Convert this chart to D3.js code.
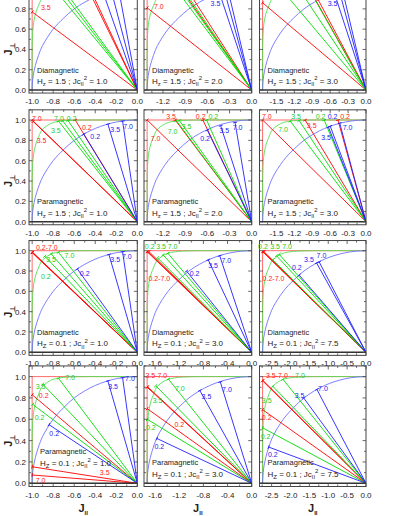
<!DOCTYPE html>
<html>
<head>
<meta charset="utf-8">
<script src="https://cdn.jsdelivr.net/npm/d3@7"></script>
<style>
    body { margin: 0; background: #fff; }
    svg { display: block; font-family: "Liberation Sans", Arial, sans-serif; }
</style>
</head>
<body>
<svg id="chart" width="399" height="516"></svg>
<script>
// ---- data ----
const phases = ['Diamagnetic', 'Paramagnetic', 'Diamagnetic', 'Paramagnetic'];
const hzValues = ['1.5', '1.5', '0.1', '0.1'];
const jc2Values = [[1.0, 2.0, 3.0], [1.0, 2.0, 3.0], [1.0, 3.0, 7.5], [1.0, 3.0, 7.5]];

const xTicksTop = [[-1.0, -0.8, -0.6, -0.4, -0.2, 0.0], [-1.2, -0.9, -0.6, -0.3, 0.0], [-1.5, -1.2, -0.9, -0.6, -0.3, 0.0]];
const xTicksBottom = [[-1.0, -0.8, -0.6, -0.4, -0.2, 0.0], [-1.6, -1.2, -0.8, -0.4, 0.0], [-2.5, -2.0, -1.5, -1.0, -0.5, 0.0]];
const yTicks = [0.0, 0.2, 0.4, 0.6, 0.8, 1.0];

// boundary shapes, J_par given as fraction of Jc
const blueArc = [[-1, 0], [-0.998, 0.06], [-0.99, 0.14], [-0.97, 0.24], [-0.94, 0.34], [-0.9, 0.44], [-0.8, 0.6], [-0.7, 0.71],
    [-0.6, 0.8], [-0.5, 0.866], [-0.4, 0.917], [-0.3, 0.954], [-0.2, 0.98], [-0.1, 0.995], [0, 1]];
const greenArc = [[-1, 0], [-0.9999, 0.3], [-0.999, 0.45], [-0.996, 0.55], [-0.99, 0.63], [-0.98, 0.7], [-0.96, 0.78], [-0.94, 0.83],
    [-0.92, 0.88], [-0.9, 0.91], [-0.85, 0.95], [-0.8, 0.975], [-0.7, 0.993], [-0.6, 0.998], [-0.5, 1], [0, 1]];

// rays from the origin: [colour, J_par end, J_perp end] per panel (row by row)
const rays = [
    [['r', -1.0, 0.77], ['r', -0.45, 1.0], ['r', -0.47, 1.0], ['g', -0.78, 0.985], ['g', -0.735, 0.99], ['g', -0.70, 0.993],
     ['b', -0.32, 0.947], ['b', -0.245, 0.97], ['b', -0.176, 0.984]],
    [['r', -1.414, 0.81], ['r', -0.955, 1.0], ['r', -0.88, 1.0], ['g', -1.02, 0.99], ['g', -0.97, 0.995], ['g', -0.93, 1.0],
     ['b', -0.433, 0.952], ['b', -0.365, 0.966], ['b', -0.317, 0.974]],
    [['r', -1.732, 0.86], ['r', -0.95, 1.0], ['r', -0.90, 1.0], ['g', -1.39, 0.975], ['g', -1.12, 0.995], ['g', -0.96, 1.0],
     ['b', -0.51, 0.92], ['b', -0.43, 0.94], ['b', -0.38, 0.95]],
    [['r', -1.0, 1.0], ['r', -0.99, 0.985], ['r', -0.59, 1.0], ['g', -0.75, 0.99], ['g', -0.71, 0.993], ['g', -0.66, 0.997],
     ['b', -0.51, 0.86], ['b', -0.28, 0.96], ['b', -0.14, 0.99]],
    [['r', -1.414, 1.0], ['r', -1.035, 1.0], ['r', -0.66, 1.0], ['g', -1.02, 0.995], ['g', -0.98, 0.997], ['g', -0.61, 1.0],
     ['b', -0.6, 0.9], ['b', -0.42, 0.944], ['b', -0.225, 0.975]],
    [['r', -1.732, 1.0], ['r', -1.02, 1.0], ['r', -0.47, 1.0], ['g', -1.27, 0.99], ['g', -1.12, 0.995], ['g', -0.70, 1.0],
     ['b', -0.63, 0.93], ['b', -0.6, 0.94], ['b', -0.44, 0.97]],
    [['r', -0.995, 0.985], ['r', -1.0, 0.985], ['r', -1.0, 0.98], ['g', -0.88, 0.945], ['g', -0.82, 0.97], ['g', -0.75, 0.985],
     ['b', -0.57, 0.82], ['b', -0.27, 0.963], ['b', -0.14, 0.99]],
    [['r', -1.732, 0.99], ['r', -1.72, 0.99], ['r', -1.70, 0.99], ['g', -1.56, 0.93], ['g', -1.47, 0.96], ['g', -1.39, 0.975],
     ['b', -1.08, 0.8], ['b', -0.72, 0.91], ['b', -0.53, 0.95]],
    [['r', -2.739, 0.99], ['r', -2.72, 0.99], ['r', -2.70, 0.99], ['g', -2.47, 0.91], ['g', -2.37, 0.95], ['g', -2.3, 0.965],
     ['b', -1.77, 0.76], ['b', -1.31, 0.88], ['b', -1.24, 0.89]],
    [['r', -1.0, 0.83], ['r', -1.0, 0.155], ['r', -1.0, 0.078], ['g', -0.995, 0.74], ['g', -0.9, 0.93], ['g', -0.75, 0.985],
     ['b', -0.84, 0.55], ['b', -0.28, 0.96], ['b', -0.14, 0.99]],
    [['r', -1.732, 0.70], ['r', -1.732, 0.9], ['r', -1.725, 0.905], ['g', -1.73, 0.60], ['g', -1.59, 0.914], ['g', -1.38, 0.977],
     ['b', -1.57, 0.42], ['b', -0.86, 0.87], ['b', -0.52, 0.95]],
    [['r', -2.739, 0.69], ['r', -2.739, 0.96], ['r', -2.73, 0.965], ['g', -2.739, 0.52], ['g', -2.47, 0.91], ['g', -2.2, 0.975],
     ['b', -2.58, 0.34], ['b', -1.65, 0.8], ['b', -1.3, 0.88]]
];

// curve labels: [colour, text, J_par, J_perp] per panel
const labels = [
    [['r', '3.5', -0.87, 0.81]],
    [['r', '7.0', -1.255, 0.82], ['b', '3.5', -0.49, 0.855]],
    [['b', '3.5', -0.56, 0.855]],
    [['r', '7.0', -0.955, 1.01], ['g', '7.0', -0.745, 1.01], ['g', '0.2', -0.625, 1.01], ['g', '3.5', -0.775, 0.9],
     ['r', '0.2', -0.48, 0.93], ['r', '3.5', -0.91, 0.8], ['b', '0.2', -0.40, 0.84], ['b', '3.5', -0.21, 0.91], ['b', '7.0', -0.087, 0.94]],
    [['r', '3.5', -1.09, 1.03], ['r', '0.2', -0.69, 1.03], ['g', '0.2', -0.52, 1.03], ['g', '7.0', -1.07, 0.885],
     ['g', '3.5', -0.88, 0.94], ['r', '7.0', -1.30, 0.82], ['b', '0.2', -0.63, 0.82], ['b', '3.5', -0.37, 0.90], ['b', '7.0', -0.19, 0.925]],
    [['r', '7.0', -1.66, 1.03], ['g', '3.5', -1.17, 1.03], ['g', '0.2', -0.76, 1.03], ['b', '0.2', -0.56, 1.03], ['r', '0.2', -0.35, 1.03],
     ['g', '7.0', -1.39, 0.91], ['r', '3.5', -0.91, 0.95], ['b', '3.5', -0.67, 0.83], ['b', '7.0', -0.31, 0.925]],
    [['r', '0.2-7.0', -0.86, 1.03], ['g', '3.5', -0.82, 0.91], ['g', '7.0', -0.645, 0.95], ['g', '0.2', -0.87, 0.75],
     ['b', '0.2', -0.5, 0.78], ['b', '3.5', -0.21, 0.91], ['b', '7.0', -0.10, 0.94]],
    [['g', '0.2', -1.69, 1.04], ['g', '3.5', -1.50, 1.04], ['g', '7.0', -1.31, 1.04], ['r', '0.2-7.0', -1.53, 0.73],
     ['b', '0.2', -0.945, 0.78], ['b', '3.5', -0.64, 0.85], ['b', '7.0', -0.42, 0.90]],
    [['g', '0.2', -2.73, 1.04], ['g', '3.5', -2.41, 1.04], ['g', '7.0', -2.09, 1.04], ['r', '0.2-7.0', -2.45, 0.73],
     ['b', '0.2', -1.83, 0.83], ['b', '3.5', -1.51, 0.91], ['b', '7.0', -1.18, 0.95]],
    [['r', '0.2', -0.89, 0.82], ['g', '0.2', -0.93, 0.62], ['b', '0.2', -0.79, 0.47], ['r', '3.5', -0.31, 0.10], ['r', '7.0', -0.92, 0.03],
     ['g', '3.5', -0.92, 0.905], ['b', '3.5', -0.23, 0.905], ['g', '7.0', -0.64, 0.99], ['b', '7.0', -0.07, 0.98]],
    [['r', '3.5-7.0', -1.58, 1.01], ['g', '7.0', -1.19, 0.89], ['g', '3.5', -1.56, 0.78], ['r', '0.2', -1.2, 0.55],
     ['g', '0.2', -1.67, 0.52], ['b', '0.2', -1.53, 0.34], ['b', '3.5', -0.75, 0.81], ['b', '7.0', -0.41, 0.875]],
    [['r', '3.5-7.0', -2.36, 1.01], ['g', '7.0', -1.75, 1.01], ['g', '3.5', -2.63, 0.78], ['r', '0.2', -2.63, 0.62],
     ['g', '0.2', -2.66, 0.44], ['b', '0.2', -2.47, 0.27], ['b', '3.5', -1.76, 0.82], ['b', '7.0', -1.14, 0.89]]
];

// ---- layout ----
const colLeft = [29, 144, 259.5];
const colRight = [137.3, 251.7, 366];
const rowZero = [90, 221.7, 352.3, 483.3];
const rowUnit = [101.4, 101.7, 101.6, 106.7];

const lineColor = { r: '#ff0000', g: '#00dd00', b: '#2020ff' };
const textColor = { r: '#ff2020', g: '#22cc22', b: '#2222ee' };
const fmt = v => d3.format('.1f')(v).replace('−', '-');

const svg = d3.select('#chart');
const defs = svg.append('defs');

for (let r = 0; r < 4; r++) {
    for (let c = 0; c < 3; c++) {
        drawPanel(r, c);
    }
}

function drawPanel(r, c) {
    const idx = r * 3 + c;
    const jc = Math.sqrt(jc2Values[r][c]);
    const x = d3.scaleLinear().domain([-jc * 1.03, 0]).range([colLeft[c], colRight[c]]);
    const y = d3.scaleLinear().domain([-0.03, 1.1])
        .range([rowZero[r] + 0.03 * rowUnit[r], rowZero[r] - 1.1 * rowUnit[r]]);

    const [x0, x1] = x.range();
    const [yb, yt] = y.range();

    defs.append('clipPath').attr('id', `clip${idx}`)
        .append('rect').attr('x', x0).attr('y', yt).attr('width', x1 - x0).attr('height', yb - yt);

    const g = svg.append('g');
    const plot = g.append('g').attr('clip-path', `url(#clip${idx})`);

    const line = d3.line().x(d => x(d[0])).y(d => y(d[1]));
    const smooth = d3.line().x(d => x(d[0] * jc)).y(d => y(d[1])).curve(d3.curveCatmullRom);

    // red limit: J_par = -Jc and J_perp = 1
    plot.append('path')
        .attr('d', line([[-jc, 0], [-jc, 1], [0, 1]]))
        .attr('fill', 'none').attr('stroke', '#ff6a6a').attr('stroke-width', 1);
    plot.append('path')
        .attr('d', smooth(greenArc))
        .attr('fill', 'none').attr('stroke', '#55e055').attr('stroke-width', 0.9);
    plot.append('path')
        .attr('d', smooth(blueArc))
        .attr('fill', 'none').attr('stroke', '#7070ff').attr('stroke-width', 0.9);

    // rays, red then green then blue
    const order = { r: 0, g: 1, b: 2 };
    const panelRays = rays[idx].slice().sort((a, b) => order[a[0]] - order[b[0]]);
    plot.selectAll('line.ray')
        .data(panelRays)
        .join('line')
        .attr('class', 'ray')
        .attr('x1', x(0)).attr('y1', y(0))
        .attr('x2', d => x(d[1])).attr('y2', d => y(d[2]))
        .attr('stroke', d => lineColor[d[0]])
        .attr('stroke-width', 0.9);

    // small end caps on rays
    plot.selectAll('line.cap')
        .data(panelRays)
        .join('line')
        .attr('class', 'cap')
        .each(function (d) {
            const px = x(d[1]), py = y(d[2]);
            const dx = px - x(0), dy = py - y(0);
            const len = Math.hypot(dx, dy);
            const nx = -dy / len * 2, ny = dx / len * 2;
            d3.select(this)
                .attr('x1', px - nx).attr('y1', py - ny)
                .attr('x2', px + nx).attr('y2', py + ny);
        })
        .attr('stroke', d => lineColor[d[0]])
        .attr('stroke-width', 0.9);

    // zero line
    g.append('line')
        .attr('x1', x0).attr('x2', x1).attr('y1', y(0)).attr('y2', y(0))
        .attr('stroke', '#333').attr('stroke-width', 1.6);

    // frame
    g.append('rect')
        .attr('x', x0).attr('y', yt).attr('width', x1 - x0).attr('height', yb - yt)
        .attr('fill', 'none').attr('stroke', '#444').attr('stroke-width', 1);

    // ticks on all sides, pointing in
    const xt = r < 2 ? xTicksTop[c] : xTicksBottom[c];
    const step = xt[1] - xt[0];
    const xMinor = d3.range(0, 61).map(i => -i * step / 2).filter(v => v >= x.domain()[0] - 1e-9);
    const yMinor = d3.range(0, 12).map(i => i * 0.1);

    const tickG = g.append('g').attr('stroke', '#444').attr('stroke-width', 0.8);
    xMinor.forEach((v, i) => {
        const len = i % 2 === 0 ? 3.5 : 2;
        tickG.append('line').attr('x1', x(v)).attr('x2', x(v)).attr('y1', yb).attr('y2', yb - len);
        tickG.append('line').attr('x1', x(v)).attr('x2', x(v)).attr('y1', yt).attr('y2', yt + len);
    });
    yMinor.forEach((v, i) => {
        const len = i % 2 === 0 ? 3.5 : 2;
        tickG.append('line').attr('y1', y(v)).attr('y2', y(v)).attr('x1', x0).attr('x2', x0 + len);
        tickG.append('line').attr('y1', y(v)).attr('y2', y(v)).attr('x1', x1).attr('x2', x1 - len);
    });

    // x tick labels
    g.selectAll('text.xt')
        .data(xt)
        .join('text')
        .attr('class', 'xt')
        .attr('x', d => x(d)).attr('y', yb + 11)
        .attr('text-anchor', 'middle')
        .attr('font-size', 8).attr('fill', '#222')
        .text(fmt);

    // y tick labels on the first column
    if (c === 0) {
        g.selectAll('text.yt')
            .data(yTicks.filter(v => y(v) > 6))
            .join('text')
            .attr('class', 'yt')
            .attr('x', x0 - 3).attr('y', d => y(d) + 3)
            .attr('text-anchor', 'end')
            .attr('font-size', 8).attr('fill', '#222')
            .text(fmt);

        const yl = g.append('text')
            .attr('transform', `translate(12,${y(0.4)}) rotate(-90)`)
            .attr('text-anchor', 'middle')
            .attr('font-size', 11).attr('font-weight', 'bold').attr('fill', '#222');
        yl.append('tspan').text('J');
        yl.append('tspan').attr('font-size', 7).attr('dy', 3).text('⊥');
    }

    // x title under the bottom row
    if (r === 3) {
        const xl = g.append('text')
            .attr('x', (x0 + x1) / 2).attr('y', 512)
            .attr('text-anchor', 'middle')
            .attr('font-size', 11).attr('font-weight', 'bold').attr('fill', '#222');
        xl.append('tspan').text('J');
        xl.append('tspan').attr('font-size', 6).attr('dy', 3).text('II');
    }

    // curve labels
    g.selectAll('text.lab')
        .data(labels[idx])
        .join('text')
        .attr('class', 'lab')
        .attr('x', d => x(d[2])).attr('y', d => y(d[3]))
        .attr('dy', '0.35em')
        .attr('text-anchor', 'middle')
        .attr('font-size', 7)
        .attr('fill', d => textColor[d[0]])
        .text(d => d[1]);

    // phase and parameter text
    const special = r === 3 && c === 0;
    const tx = x0 + (special ? 11 : 8);
    g.append('text')
        .attr('x', tx).attr('y', y(special ? 0.27 : 0.17))
        .attr('font-size', 7.5).attr('fill', '#222')
        .text(phases[r]);
    const ht = g.append('text')
        .attr('x', tx).attr('y', y(special ? 0.165 : 0.06))
        .attr('font-size', 8).attr('fill', '#222');
    ht.append('tspan').text('H');
    ht.append('tspan').attr('font-size', 6).attr('dy', 2).text(r < 2 ? 'z' : 'Z');
    ht.append('tspan').attr('dy', -2).text(` = ${hzValues[r]}  ;  Jc`);
    ht.append('tspan').attr('font-size', 5.5).attr('dy', 2.5).text('II');
    ht.append('tspan').attr('font-size', 6).attr('dy', -6).text('2');
    ht.append('tspan').attr('dy', 3.5).text(` = ${fmt(jc2Values[r][c])}`);
}
</script>
</body>
</html>
